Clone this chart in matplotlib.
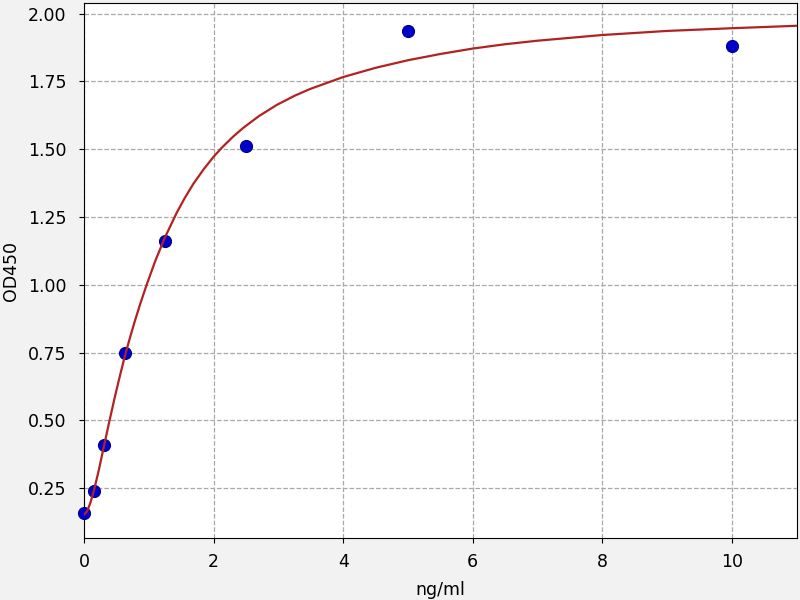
import matplotlib
matplotlib.use('Agg')
import matplotlib.pyplot as plt

# standards (ng/ml) and measured OD450
conc = [0, 0.156, 0.3125, 0.625, 1.25, 2.5, 5, 10]
od = [0.158, 0.240, 0.410, 0.747, 1.160, 1.512, 1.937, 1.882]

# fitted curve, points
fitX = [0, 0.05, 0.1, 0.154, 0.23, 0.3125, 0.39, 0.47, 0.55, 0.625, 0.70, 0.787,
        0.87, 0.967, 1.1, 1.25, 1.43, 1.55, 1.687, 1.85, 2.0, 2.125, 2.3, 2.46,
        2.7, 2.974, 3.25, 3.49, 4.0, 4.5, 5.0, 5.5, 6.0, 6.5, 7.0, 8.0, 9.0, 10.0, 11.0]
fitY = [0.152, 0.165, 0.197, 0.242, 0.318, 0.410, 0.495, 0.580, 0.660, 0.732, 0.797, 0.868,
        0.931, 1.000, 1.088, 1.175, 1.265, 1.318, 1.372, 1.427, 1.472, 1.505, 1.546, 1.579,
        1.622, 1.663, 1.697, 1.722, 1.766, 1.800, 1.828, 1.851, 1.871, 1.887, 1.900, 1.921, 1.936, 1.946, 1.955]

fig = plt.figure(figsize=(8, 6), dpi=100, facecolor='#f2f2f2')
ax = fig.add_axes([0.105, 0.1033, 0.891, 0.8917])
ax.set_facecolor('white')

ax.scatter(conc, od, s=75, color='#0000cc', edgecolors='#00008b', linewidths=0.8, zorder=3, clip_on=False)
ax.plot(fitX, fitY, color='#b22222', lw=1.6, zorder=4, solid_joinstyle='round')

ax.set_xlim(0, 11)
ax.set_ylim(0.066, 2.039)
ax.set_xticks([0, 2, 4, 6, 8, 10])
ax.set_yticks([0.25, 0.50, 0.75, 1.00, 1.25, 1.50, 1.75, 2.00])
ax.yaxis.set_major_formatter(matplotlib.ticker.FormatStrFormatter('%.2f'))
ax.grid(True, linestyle='--', color='#a8a8a8', lw=0.9)
ax.set_axisbelow(True)
ax.tick_params(axis='x', labelsize=12.5, pad=7)
ax.tick_params(axis='y', labelsize=12.5, pad=9)

ax.set_xlabel('ng/ml', fontsize=12.5)
ax.set_ylabel('OD450', fontsize=12.5)
ax.xaxis.set_label_coords(0.5, -0.08)
ax.yaxis.set_label_coords(-0.09, 0.5)

plt.savefig('out.png', dpi=100, facecolor=fig.get_facecolor())
